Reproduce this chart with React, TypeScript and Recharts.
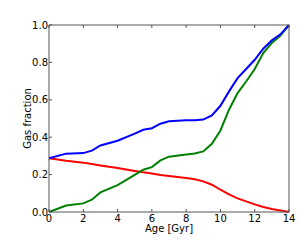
import React from 'react';
import { LineChart, Line, XAxis, YAxis } from 'recharts';

const ages = [0, 1, 2, 2.5, 3, 4, 5, 5.5, 6, 6.5, 7, 8, 8.5, 9, 9.5, 10, 10.5, 11, 11.5, 12, 12.5, 13, 13.5, 14];
const totalGas = [0.287, 0.312, 0.315, 0.328, 0.356, 0.381, 0.419, 0.44, 0.448, 0.472, 0.485, 0.49, 0.491, 0.494, 0.517, 0.568, 0.645, 0.716, 0.765, 0.814, 0.873, 0.918, 0.95, 1.0];
const accretedGas = [0, 0.035, 0.046, 0.066, 0.105, 0.144, 0.198, 0.226, 0.24, 0.276, 0.296, 0.308, 0.313, 0.324, 0.365, 0.436, 0.547, 0.636, 0.698, 0.765, 0.85, 0.904, 0.943, 1.0];
const initialGas = [0.287, 0.274, 0.264, 0.257, 0.249, 0.235, 0.219, 0.212, 0.206, 0.198, 0.192, 0.182, 0.175, 0.164, 0.146, 0.119, 0.094, 0.073, 0.057, 0.041, 0.027, 0.016, 0.008, 0.0];
const xTicks = [0, 2, 4, 6, 8, 10, 12, 14];
const yTicks = [0, 0.2, 0.4, 0.6, 0.8, 1.0];

const data = ages.map((a, i) => ({ age: a, total: totalGas[i], accreted: accretedGas[i], initial: initialGas[i] }));

const FONT = "'DejaVu Sans', sans-serif";
const FRAME = '#555';
const tickStyle = { fontSize: 10, fill: '#000', fontFamily: FONT };

const YLabel = (props: any) => {
  const vb = props.viewBox || { x: 0, y: 0, width: 0, height: 0 };
  const cx = vb.x + 27;
  const cy = vb.y + vb.height / 2;
  return (
    <text x={cx} y={cy} transform={`rotate(-90 ${cx} ${cy})`} textAnchor="middle" dominantBaseline="central"
      style={{ fontSize: 10, fill: '#000', fontFamily: FONT }}>Gas fraction</text>
  );
};

export default function App() {
  return (
    <div style={{ position: 'absolute', left: 0, top: 0, width: 299, height: 242, background: '#fff', fontFamily: FONT }}>
      <LineChart width={299} height={242} data={data} margin={{ top: 24, right: 9, bottom: 0, left: 0 }}>
        <XAxis dataKey="age" type="number" domain={[0, 14]} ticks={xTicks} height={30}
          tickSize={-3} tickMargin={6} tick={tickStyle}
          axisLine={{ stroke: FRAME }} tickLine={{ stroke: FRAME }}
          label={{ value: 'Age [Gyr]', position: 'insideBottom', offset: 10, style: { fontSize: 10, fill: '#000', fontFamily: FONT } }} />
        <XAxis xAxisId="top" orientation="top" dataKey="age" type="number" domain={[0, 14]} ticks={xTicks} height={1}
          tickSize={-3} tickFormatter={() => ''} axisLine={{ stroke: FRAME }} tickLine={{ stroke: FRAME }} />
        <YAxis type="number" domain={[0, 1]} ticks={yTicks} width={49} tickSize={-3} tickMargin={4}
          tick={tickStyle} tickFormatter={(v: number) => v.toFixed(1)}
          axisLine={{ stroke: FRAME }} tickLine={{ stroke: FRAME }}
          label={{ content: (p: any) => <YLabel {...p} /> }} />
        <YAxis yAxisId="right" orientation="right" type="number" domain={[0, 1]} ticks={yTicks} width={1}
          tickSize={-3} tickFormatter={() => ''} axisLine={{ stroke: FRAME }} tickLine={{ stroke: FRAME }} />
        <Line dataKey="initial" stroke="#ff0000" strokeWidth={2} dot={false} isAnimationActive={false} type="linear" />
        <Line dataKey="accreted" stroke="#008000" strokeWidth={2} dot={false} isAnimationActive={false} type="linear" />
        <Line dataKey="total" stroke="#0000ff" strokeWidth={2} dot={false} isAnimationActive={false} type="linear" />
      </LineChart>
    </div>
  );
}
